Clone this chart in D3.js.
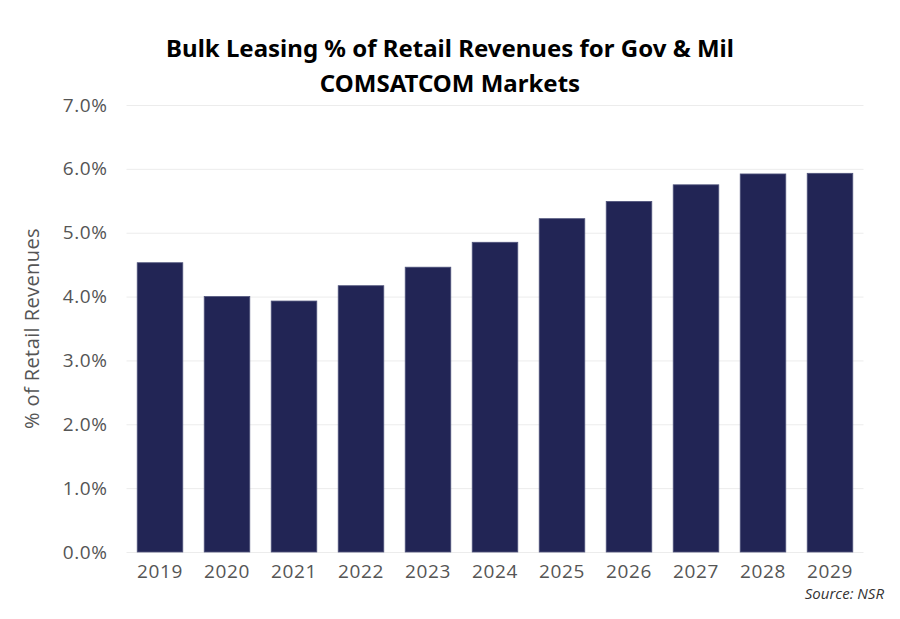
<!DOCTYPE html>
<html lang="en">
<head>
<meta charset="UTF-8"/>
<title>Bulk Leasing</title>
<script src="https://d3js.org/d3.v7.min.js"></script>
<style>
	body { margin: 0; background: #fff; }
	.grid line { stroke: #ececec; stroke-width: 1px; }
	.grid path { display: none; }
	.axis text { font-family: "Open Sans", sans-serif; font-size: 19px; fill: #555; letter-spacing: 0.6px; }
	.axis path, .axis line { display: none; }
	.title { font-family: "Noto Sans", sans-serif; font-weight: bold; font-size: 24px; fill: #000; }
	.bar { fill: #222555; stroke: #50547c; stroke-width: 0.8px; }
</style>
</head>
<body>
<div id="chart"></div>
<script>
	var years = ["2019", "2020", "2021", "2022", "2023", "2024", "2025", "2026", "2027", "2028", "2029"];
	var shares = [4.53, 4.00, 3.93, 4.17, 4.46, 4.85, 5.22, 5.49, 5.75, 5.92, 5.93];
	var yTicks = [0, 1, 2, 3, 4, 5, 6, 7];

	var w = 900, h = 619;
	var plotLeft = 126.5, plotRight = 863.5, plotTop = 105, plotBottom = 552;

	var svg = d3.select("#chart").append("svg")
		.attr("width", w)
		.attr("height", h);

	var xScale = d3.scaleBand()
		.domain(years)
		.range([plotLeft, plotRight])
		.paddingInner(0.32)
		.paddingOuter(0.16);

	var yScale = d3.scaleLinear()
		.domain([0, 7])
		.range([plotBottom, plotTop]);

	// gridlines
	svg.append("g")
		.attr("class", "grid")
		.attr("transform", "translate(" + plotLeft + ",0)")
		.call(d3.axisLeft(yScale).tickValues(yTicks).tickSize(-(plotRight - plotLeft)).tickFormat(""));

	svg.selectAll(".bar")
		.data(shares)
		.enter()
		.append("rect")
		.attr("class", "bar")
		.attr("x", function(d, i) { return xScale(years[i]); })
		.attr("y", function(d) { return yScale(d); })
		.attr("width", xScale.bandwidth())
		.attr("height", function(d) { return plotBottom - yScale(d); });

	svg.append("g")
		.attr("class", "axis")
		.attr("transform", "translate(" + (plotLeft - 12) + ",0)")
		.call(d3.axisLeft(yScale).tickValues(yTicks).tickSize(0).tickPadding(7)
			.tickFormat(function(d) { return d.toFixed(1) + "%"; }));

	svg.append("g")
		.attr("class", "axis")
		.attr("transform", "translate(0," + plotBottom + ")")
		.call(d3.axisBottom(xScale).tickSize(0).tickPadding(13));

	svg.append("text")
		.attr("transform", "translate(39," + ((plotTop + plotBottom) / 2) + ") rotate(-90)")
		.attr("text-anchor", "middle")
		.style("font-family", "'Open Sans', sans-serif")
		.style("font-size", "20px")
		.style("letter-spacing", "0.4px")
		.style("fill", "#555")
		.text("% of Retail Revenues");

	svg.append("text")
		.attr("class", "title")
		.attr("x", 450)
		.attr("y", 57)
		.attr("text-anchor", "middle")
		.text("Bulk Leasing % of Retail Revenues for Gov & Mil");

	svg.append("text")
		.attr("class", "title")
		.attr("x", 450)
		.attr("y", 92)
		.attr("text-anchor", "middle")
		.text("COMSATCOM Markets");

	svg.append("text")
		.attr("x", 884)
		.attr("y", 599)
		.attr("text-anchor", "end")
		.style("font-family", "'Open Sans', sans-serif")
		.style("font-style", "italic")
		.style("font-size", "15px")
		.style("fill", "#333")
		.text("Source: NSR");
</script>
</body>
</html>
